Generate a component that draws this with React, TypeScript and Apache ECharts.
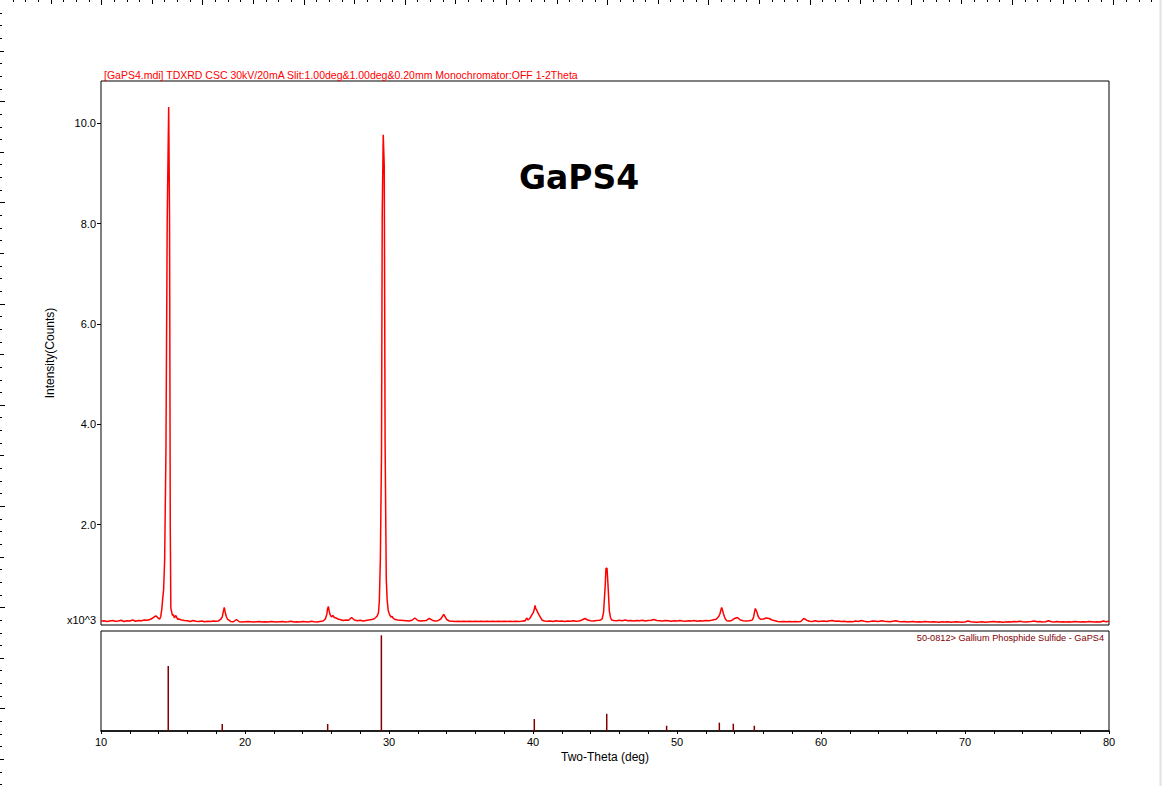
import { useEffect, useRef } from 'react';
import * as echarts from 'echarts';

const FONT = '"Liberation Sans", Arial, sans-serif';

const titleText =
  '[GaPS4.mdi] TDXRD CSC 30kV/20mA Slit:1.00deg&1.00deg&0.20mm Monochromator:OFF 1-2Theta';
const cardText = '50-0812> Gallium Phosphide Sulfide - GaPS4';
const sampleName = 'GaPS4';

const intensityLabels = [0, 2000, 4000, 6000, 8000, 10000];
const intensityTicks = [2000, 4000, 6000, 8000, 10000];

// background counts, one row per degree (10..79), points at +0.0 +0.2 +0.4 +0.6 +0.8
const background: number[][] = [
  [75, 85, 70, 80, 90], // 10
  [75, 80, 95, 70, 85],
  [80, 100, 75, 90, 85],
  [100, 95, 110, 140, 180],
  [120, 200, 400, 900, 5000],
  [150, 140, 120, 100, 90], // 15
  [85, 70, 90, 75, 70],
  [80, 65, 75, 70, 80],
  [75, 90, 200, 150, 90],
  [70, 65, 110, 65, 60],
  [65, 70, 65, 60, 65], // 20
  [70, 60, 65, 60, 70],
  [65, 60, 65, 70, 60],
  [65, 75, 60, 65, 60],
  [70, 65, 60, 75, 65],
  [60, 70, 80, 200, 300], // 25
  [200, 170, 150, 110, 90],
  [100, 95, 150, 100, 85],
  [95, 80, 90, 100, 110],
  [120, 500, 9000, 500, 200],
  [200, 150, 110, 100, 95], // 30
  [90, 85, 80, 95, 140],
  [90, 80, 85, 90, 130],
  [95, 80, 85, 120, 210],
  [110, 80, 75, 70, 75],
  [70, 75, 70, 75, 70], // 35
  [75, 70, 75, 70, 75],
  [70, 75, 70, 75, 70],
  [75, 70, 75, 70, 75],
  [70, 75, 85, 100, 140],
  [250, 300, 200, 120, 80], // 40
  [75, 80, 70, 85, 75],
  [80, 70, 80, 75, 85],
  [75, 80, 100, 130, 100],
  [85, 80, 90, 95, 120],
  [700, 500, 100, 90, 85], // 45
  [95, 85, 100, 85, 90],
  [80, 90, 85, 95, 80],
  [90, 95, 110, 90, 85],
  [80, 90, 85, 75, 85],
  [80, 90, 80, 75, 85], // 50
  [80, 90, 75, 85, 80],
  [90, 85, 95, 110, 140],
  [300, 200, 90, 80, 90],
  [130, 150, 100, 85, 80],
  [85, 95, 200, 130, 115], // 55
  [120, 140, 130, 100, 85],
  [70, 65, 70, 65, 70],
  [65, 70, 65, 70, 130],
  [95, 75, 70, 85, 70],
  [75, 80, 70, 85, 90], // 60
  [75, 80, 70, 75, 65],
  [70, 65, 80, 70, 90],
  [75, 65, 70, 80, 75],
  [70, 85, 75, 70, 65],
  [75, 85, 70, 65, 70], // 65
  [60, 65, 70, 60, 65],
  [60, 70, 65, 60, 65],
  [60, 55, 65, 60, 65],
  [55, 60, 65, 60, 55],
  [60, 80, 65, 60, 55], // 70
  [60, 65, 55, 60, 65],
  [70, 60, 65, 55, 60],
  [65, 60, 70, 65, 75],
  [65, 60, 65, 70, 80],
  [65, 70, 60, 65, 85], // 75
  [65, 60, 70, 60, 65],
  [60, 65, 60, 70, 65],
  [60, 65, 60, 70, 65],
  [60, 65, 60, 80, 65],
];
const backgroundEnd = 75; // 80.0

// peak profiles [2theta, counts], these replace the background inside their range
const peak14: [number, number][] = [
  [13.9, 160], [14.0, 130], [14.08, 120], [14.15, 170], [14.22, 310], [14.28, 510],
  [14.35, 710], [14.42, 1290], [14.51, 3470], [14.6, 8120], [14.7, 10320], [14.76, 8120],
  [14.81, 1990], [14.85, 330], [14.9, 270], [14.96, 190], [15.02, 210], [15.1, 140],
  [15.18, 190], [15.26, 150], [15.35, 110],
];
const peak18: [number, number][] = [
  [18.15, 80], [18.3, 110], [18.42, 160], [18.5, 270], [18.56, 350], [18.62, 260],
  [18.7, 170], [18.8, 110], [18.95, 80],
];
const peak25: [number, number][] = [
  [25.45, 85], [25.58, 120], [25.68, 210], [25.74, 330], [25.79, 370], [25.85, 270],
  [25.92, 200], [26.0, 160], [26.1, 190], [26.2, 150], [26.32, 140], [26.5, 115],
];
const peak29: [number, number][] = [
  [28.95, 120], [29.08, 150], [29.18, 180], [29.27, 250], [29.33, 480], [29.4, 1310],
  [29.48, 3400], [29.53, 8190], [29.6, 9770], [29.67, 9150], [29.73, 3600], [29.81, 910],
  [29.87, 510], [29.94, 300], [30.0, 240], [30.07, 190], [30.15, 160], [30.22, 170],
  [30.3, 130], [30.38, 115],
];
const peak40: [number, number][] = [
  [39.45, 80], [39.56, 140], [39.65, 100], [39.78, 130], [39.92, 200], [40.03, 250],
  [40.1, 330], [40.14, 390], [40.2, 320], [40.26, 300], [40.34, 240], [40.42, 200],
  [40.52, 150], [40.62, 100], [40.8, 80],
];
const peak45: [number, number][] = [
  [44.7, 100], [44.8, 120], [44.9, 250], [45.0, 710], [45.07, 1130], [45.14, 1130],
  [45.18, 940], [45.23, 680], [45.3, 280], [45.38, 150], [45.46, 100], [45.55, 95],
];
const peak53: [number, number][] = [
  [52.7, 110], [52.8, 140], [52.9, 170], [52.99, 230], [53.06, 310], [53.1, 350],
  [53.16, 300], [53.22, 230], [53.3, 160], [53.38, 110], [53.47, 85],
];
const peak55: [number, number][] = [
  [55.25, 110], [55.32, 160], [55.38, 250], [55.44, 330], [55.5, 290], [55.56, 250],
  [55.64, 170], [55.72, 130], [55.8, 115],
];
const peaks = [peak14, peak18, peak25, peak29, peak40, peak45, peak53, peak55];

// PDF card 50-0812 sticks [2theta, relative intensity]
const cardLines: [number, number][] = [
  [14.67, 68], [18.42, 7.3], [25.74, 7.3], [29.47, 100], [40.09, 12.5],
  [45.12, 18], [49.28, 5.5], [52.94, 8.7], [53.91, 7.6], [55.37, 5.5],
];

function buildProfile() {
  const bg: [number, number][] = [];
  background.forEach((row, r) =>
    row.forEach((v, k) => bg.push([+(10 + r + k * 0.2).toFixed(1), v]))
  );
  bg.push([80, backgroundEnd]);
  const kept = bg.filter(
    ([x]) => !peaks.some((p) => x >= p[0][0] && x <= p[p.length - 1][0])
  );
  return kept.concat(...peaks).sort((a, b) => a[0] - b[0]);
}

function rulerMarks() {
  const step = 12.65;
  const out: any[] = [];
  const len = (k: number) => (k % 8 === 0 ? 5 : k % 4 === 0 ? 4 : 2);
  for (let k = 1; k * step < 1156; k++) {
    const x = Math.round(k * step) + 0.5;
    out.push({ type: 'line', silent: true, shape: { x1: x, y1: 0, x2: x, y2: len(k) }, style: { stroke: '#000', lineWidth: 1 } });
  }
  for (let k = 1; k * step < 786; k++) {
    const y = Math.round(k * step) + 0.5;
    out.push({ type: 'line', silent: true, shape: { x1: 0, y1: y, x2: len(k), y2: y }, style: { stroke: '#000', lineWidth: 1 } });
  }
  out.push({ type: 'line', silent: true, shape: { x1: 1160.5, y1: 0, x2: 1160.5, y2: 786 }, style: { stroke: '#e2e2e2', lineWidth: 2 } });
  return out;
}

export default function App() {
  const chartRef = useRef<HTMLDivElement>(null);

  useEffect(() => {
    if (!chartRef.current) return;
    const chart = echarts.init(chartRef.current, null, { renderer: 'svg' });

    const option = {
      animation: false,
      textStyle: { fontFamily: FONT },
      grid: [
        { left: 101, top: 81, width: 1008, height: 544, show: true, borderColor: '#000', borderWidth: 1 },
        { left: 101, top: 631, width: 1008, height: 100, show: true, borderColor: '#000', borderWidth: 1 },
      ],
      xAxis: [
        {
          type: 'value', gridIndex: 0, min: 10, max: 80, interval: 10,
          axisLine: { show: false }, axisTick: { show: false }, axisLabel: { show: false },
          splitLine: { show: false },
        },
        {
          type: 'value', gridIndex: 1, min: 10, max: 80, interval: 10,
          name: 'Two-Theta (deg)', nameLocation: 'middle', nameGap: 20,
          nameTextStyle: { color: '#000', fontSize: 12, fontFamily: FONT },
          axisLine: { show: true, onZero: false, lineStyle: { color: '#000', width: 1.5 } },
          axisTick: { show: true, length: 3, lineStyle: { color: '#000' } },
          minorTick: { show: true, splitNumber: 5, length: 3, lineStyle: { color: '#000' } },
          axisLabel: { color: '#000', fontSize: 11, margin: 5, fontFamily: FONT },
          splitLine: { show: false },
        },
      ],
      yAxis: [
        {
          type: 'value', gridIndex: 0, min: 0, max: 10840,
          name: 'Intensity(Counts)', nameLocation: 'middle', nameGap: 33,
          nameTextStyle: { color: '#000', fontSize: 12, fontFamily: FONT },
          axisLine: { show: false },
          axisTick: { show: true, length: 4, customValues: intensityTicks, lineStyle: { color: '#000' } },
          axisLabel: {
            color: '#000', fontSize: 11, margin: 5, fontFamily: FONT,
            customValues: intensityLabels,
            formatter: (v: number) => (v === 0 ? '{u|x10^3}' : (v / 1000).toFixed(1)),
            rich: { u: { color: '#000', fontSize: 11, fontFamily: FONT, padding: [0, 0, 10, 0] } },
          },
          splitLine: { show: false },
        },
        {
          type: 'value', gridIndex: 1, min: 0, max: 104.5,
          axisLine: { show: false }, axisTick: { show: false }, axisLabel: { show: false },
          splitLine: { show: false },
        },
      ],
      series: [
        {
          type: 'line', xAxisIndex: 0, yAxisIndex: 0, data: buildProfile(),
          showSymbol: false, silent: true,
          lineStyle: { color: '#ff0000', width: 1.5 },
        },
        {
          type: 'bar', xAxisIndex: 1, yAxisIndex: 1, data: cardLines,
          barWidth: 1.5, silent: true,
          itemStyle: { color: '#800000' },
        },
      ],
      graphic: [
        ...rulerMarks(),
        {
          type: 'text', x: 104, y: 75, silent: true,
          style: { text: titleText, fill: '#ff0000', font: `10.5px ${FONT}`, verticalAlign: 'middle' },
        },
        {
          type: 'text', x: 519, y: 177, silent: true,
          style: { text: sampleName, fill: '#000', font: `bold 33px "DejaVu Sans", sans-serif`, verticalAlign: 'middle' },
        },
        {
          type: 'text', x: 1104, y: 637.5, silent: true,
          style: { text: cardText, fill: '#800000', font: `9.2px ${FONT}`, align: 'right', verticalAlign: 'middle' },
        },
      ],
    };

    chart.setOption(option);
    return () => {
      chart.dispose();
    };
  }, []);

  return (
    <div
      ref={chartRef}
      style={{ position: 'fixed', left: 0, top: 0, width: 1164, height: 786, background: '#fff' }}
    />
  );
}
